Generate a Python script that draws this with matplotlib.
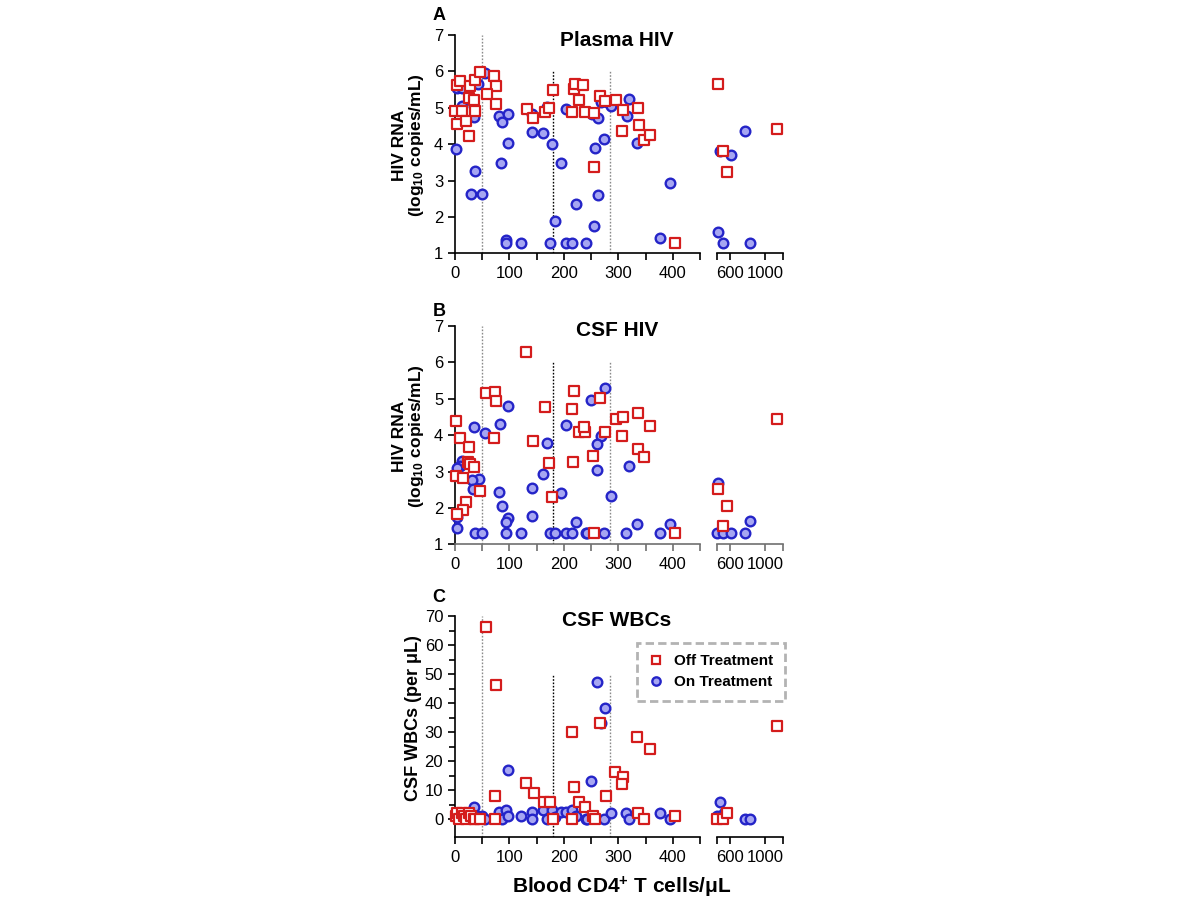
import numpy as np
import matplotlib.pyplot as plt
from matplotlib.lines import Line2D

plt.rcParams['font.family'] = ['Liberation Sans', 'DejaVu Sans']
plt.rcParams['mathtext.fontset'] = 'custom'
plt.rcParams['mathtext.bf'] = 'Liberation Sans:bold'
plt.rcParams['mathtext.rm'] = 'Liberation Sans'

# --- data (x = blood CD4 cells/uL) ---
a_off_x = [3, 9, 28, 37, 46, 72, 75, 58, 76, 25, 34, 0, 12, 36, 3, 21, 25, 132, 144, 166, 172, 180,
           215, 218, 220, 228, 236, 238, 255, 255, 267, 276, 295, 309, 336, 307, 338, 347, 359, 405,
           461, 518, 564, 1132]
a_off_y = [5.63, 5.74, 5.60, 5.76, 5.97, 5.88, 5.60, 5.37, 5.10, 5.26, 5.20, 4.92, 4.91, 4.92, 4.55,
           4.65, 4.23, 4.96, 4.73, 4.89, 4.99, 5.49, 4.87, 5.51, 5.65, 5.20, 5.63, 4.89, 4.85, 3.38,
           5.32, 5.19, 5.20, 4.94, 5.00, 4.37, 4.54, 4.12, 4.24, 1.29, 5.65, 3.82, 3.23, 4.43]
a_on_x = [3, 12, 43, 55, 12, 35, 2, 36, 29, 49, 80, 86, 98, 98, 84, 94, 94, 122, 142, 142, 161, 169,
          178, 183, 175, 195, 204, 204, 215, 223, 240, 252, 262, 268, 279, 287, 320, 316, 335, 274,
          258, 262, 255, 376, 394, 488, 612, 768, 461, 518, 828]
a_on_y = [5.53, 5.53, 5.64, 5.95, 5.05, 4.74, 3.86, 3.27, 2.63, 2.63, 4.76, 4.62, 4.83, 4.02, 3.47,
          1.37, 1.29, 1.29, 4.34, 4.83, 4.30, 5.03, 4.00, 1.89, 1.29, 3.47, 4.97, 1.29, 1.29, 2.35,
          1.29, 4.82, 4.72, 5.17, 5.17, 5.05, 5.23, 4.77, 4.02, 4.13, 3.89, 2.60, 1.75, 1.41, 2.93,
          3.81, 3.70, 4.36, 1.59, 1.29, 1.29]

b_off_x = [131, 57, 74, 75, 1, 10, 25, 72, 23, 28, 34, 1, 14, 46, 21, 14, 3, 166, 144, 172, 179,
           219, 215, 217, 228, 238, 237, 267, 253, 276, 295, 309, 336, 359, 307, 336, 347, 255, 405,
           461, 564, 518, 1132]
b_off_y = [6.29, 5.17, 5.18, 4.95, 4.39, 3.93, 3.67, 3.93, 3.25, 3.21, 3.12, 2.88, 2.81, 2.47, 2.16,
           1.93, 1.83, 4.77, 3.84, 3.23, 2.29, 5.21, 4.71, 3.27, 4.08, 4.08, 4.22, 5.01, 3.44, 4.09,
           4.44, 4.49, 4.62, 4.25, 3.99, 3.62, 3.39, 1.30, 1.30, 2.51, 2.04, 1.49, 4.45]
b_on_x = [97, 83, 56, 35, 12, 10, 3, 44, 31, 33, 80, 86, 98, 94, 3, 4, 36, 49, 94, 122, 142, 142,
          161, 169, 175, 183, 195, 204, 204, 215, 223, 240, 276, 250, 268, 261, 261, 320, 287, 243,
          274, 315, 335, 376, 394, 468, 455, 518, 612, 768, 828]
b_on_y = [4.80, 4.31, 4.05, 4.23, 3.30, 3.16, 3.09, 2.79, 2.77, 2.52, 2.45, 2.06, 1.73, 1.60, 1.76,
          1.45, 1.32, 1.32, 1.32, 1.32, 2.54, 1.79, 2.93, 3.79, 1.32, 1.32, 2.40, 4.28, 1.32, 1.32,
          1.62, 1.32, 5.29, 4.96, 3.98, 3.77, 3.03, 3.15, 2.33, 1.30, 1.30, 1.30, 1.56, 1.30, 1.56,
          2.68, 1.30, 1.30, 1.30, 1.30, 1.64]

c_off_x = [57, 76, 74, 215, 219, 130, 145, 164, 174, 228, 74, 180, 215, 267, 335, 359, 293, 309,
           307, 277, 239, 253, 258, 336, 347, 405, 455, 518, 564, 1132, 1, 3, 8, 12, 16, 21, 25, 29,
           34, 37, 46]
c_off_y = [66.3, 46.2, 8.0, 30.1, 11.1, 12.3, 9.1, 6.0, 6.0, 6.0, 0, 0, 0, 33.2, 28.2, 24.0, 16.1,
           14.4, 12.1, 8.0, 4.3, 1.0, 0, 2.2, 0, 1.0, 0, 0, 2.0, 32.1, 1, 2, 0, 2, 1, 0, 2, 1, 0, 0, 0]
c_on_x = [97, 34, 49, 56, 80, 86, 94, 98, 122, 142, 142, 161, 169, 178, 183, 195, 204, 215, 223,
          240, 261, 276, 268, 250, 243, 274, 287, 315, 320, 376, 394, 488, 455, 530, 768, 828, 3, 12,
          20, 40]
c_on_y = [16.9, 4.3, 1.1, 0, 2.3, 0, 3.1, 1.1, 1.1, 2.3, 0, 3.1, 0, 3.1, 0.6, 2.3, 2.3, 3.1, 1.0,
          0, 47.4, 38.2, 33.2, 13.1, 0, 0, 2.0, 2.0, 0, 2.0, 0, 6.0, 1.1, 2.0, 0, 0, 1, 2, 1, 1]

cutoffs = [50, 180, 285]
labels = ['Off Treatment', 'On Treatment']

RED = '#d41c1c'
BLUE = '#2424c8'
BLUE_FILL = '#a6a6f2'
GRAY = '#8a8a8a'

fig = plt.figure(figsize=(12, 9), dpi=100)


def panel(bottom, height, off_x, off_y, on_x, on_y, ylim, major, minor, line_tops, xcol):
    axl = fig.add_axes([455 / 1200, bottom, 245 / 1200, height])
    axr = fig.add_axes([716.7 / 1200, bottom, 66 / 1200, height])
    off_x, off_y = np.array(off_x), np.array(off_y)
    on_x, on_y = np.array(on_x), np.array(on_y)
    for ax, lo, hi in ((axl, 0, 450), (axr, 450, 1200)):
        m = (on_x >= lo) & (on_x < hi) if ax is axl else on_x >= lo
        ax.scatter(on_x[m], on_y[m], marker='o', s=48, facecolor=BLUE_FILL, edgecolor=BLUE,
                   linewidth=1.7, zorder=3, clip_on=False)
        m = (off_x >= lo) & (off_x < hi) if ax is axl else off_x >= lo
        ax.scatter(off_x[m], off_y[m], marker='s', s=44, facecolor='white', edgecolor=RED,
                   linewidth=1.6, zorder=4, clip_on=False)
        ax.set_xlim(lo, hi)
        ax.set_ylim(*ylim)
        ax.spines['top'].set_visible(False)
        ax.spines['right'].set_visible(False)
        ax.spines['bottom'].set_color(xcol)
        ax.spines['bottom'].set_linewidth(1.2)
        ax.tick_params(axis='x', colors=xcol, labelcolor='black', length=5, width=1.2,
                       labelsize=12, pad=4)
        ax.tick_params(axis='x', which='minor', length=5, width=1.2, colors=xcol)
        ax.patch.set_alpha(0)
    axl.set_xticks([0, 100, 200, 300, 400])
    axl.set_xticks([50, 150, 250, 350, 450], minor=True)
    axl.spines['left'].set_linewidth(1.2)
    axl.set_yticks(major)
    if minor is not None:
        axl.set_yticks(minor, minor=True)
    axl.tick_params(axis='y', length=5, width=1.2, labelsize=12)
    axl.tick_params(axis='y', which='minor', length=4, width=1.2)
    axr.spines['left'].set_visible(False)
    axr.set_yticks([])
    axr.set_xticks([600, 1000])
    axr.set_xticks([450, 1200], minor=True)
    for xc, top, col in zip(cutoffs, line_tops, [GRAY, 'black', GRAY]):
        axl.plot([xc, xc], [ylim[0], top], color=col, lw=1.0, ls=(0, (1.2, 1.2)), zorder=1)
    return axl


# panel A
panel(1 - 253.3 / 900, 218.3 / 900, a_off_x, a_off_y, a_on_x, a_on_y, (1, 7),
      [1, 2, 3, 4, 5, 6, 7], None, [7, 6, 6], 'black')
# panel B
panel(1 - 544.3 / 900, 218.3 / 900, b_off_x, b_off_y, b_on_x, b_on_y, (1, 7),
      [1, 2, 3, 4, 5, 6, 7], None, [7, 6, 6], '#707070')
# panel C
panel(1 - 837 / 900, 221 / 900, c_off_x, c_off_y, c_on_x, c_on_y, (-6.2, 70),
      list(range(0, 80, 10)), list(range(5, 70, 10)), [70, 50, 50], 'black')

bold = dict(fontweight='bold', ha='center', va='center')
fig.text(617 / 1200, 1 - 40 / 900, 'Plasma HIV', fontsize=15, **bold)
fig.text(617 / 1200, 1 - 330 / 900, 'CSF HIV', fontsize=15, **bold)
fig.text(617 / 1200, 1 - 620 / 900, 'CSF WBCs', fontsize=15, **bold)
fig.text(439 / 1200, 1 - 15 / 900, 'A', fontsize=13, **bold)
fig.text(439 / 1200, 1 - 311 / 900, 'B', fontsize=13, **bold)
fig.text(439 / 1200, 1 - 598 / 900, 'C', fontsize=13, **bold)

ylab = 'HIV RNA\n(log$\\mathbf{_{10}}$ copies/mL)'
fig.text(409 / 1200, 1 - 145 / 900, ylab, fontsize=12.5, rotation=90, linespacing=1.05,
         multialignment='center', **bold)
fig.text(409 / 1200, 1 - 436 / 900, ylab, fontsize=12.5, rotation=90, linespacing=1.05,
         multialignment='center', **bold)
fig.text(413 / 1200, 1 - 718 / 900, 'CSF WBCs (per \u03bcL)', fontsize=13, rotation=90, **bold)
fig.text(622 / 1200, 1 - 887 / 900, 'Blood CD4$\\mathbf{^{+}}$ T cells/\u03bcL', fontsize=15, **bold)

handles = [Line2D([], [], ls='none', marker='s', ms=6, mfc='white', mec=RED, mew=1.6),
           Line2D([], [], ls='none', marker='o', ms=6, mfc=BLUE_FILL, mec=BLUE, mew=1.7)]
leg = fig.legend(handles, labels, loc='upper left', bbox_to_anchor=(637 / 1200, 1 - 643 / 900),
                 prop={'weight': 'bold', 'size': 11}, frameon=True, fancybox=False,
                 borderaxespad=0, handlelength=1.0, handletextpad=0.7, labelspacing=0.45,
                 borderpad=0.75)
frame = leg.get_frame()
frame.set_edgecolor('#a0a0a0')
frame.set_linestyle((0, (3, 1.5)))
frame.set_linewidth(2)

fig.savefig('out.png', dpi=100)
